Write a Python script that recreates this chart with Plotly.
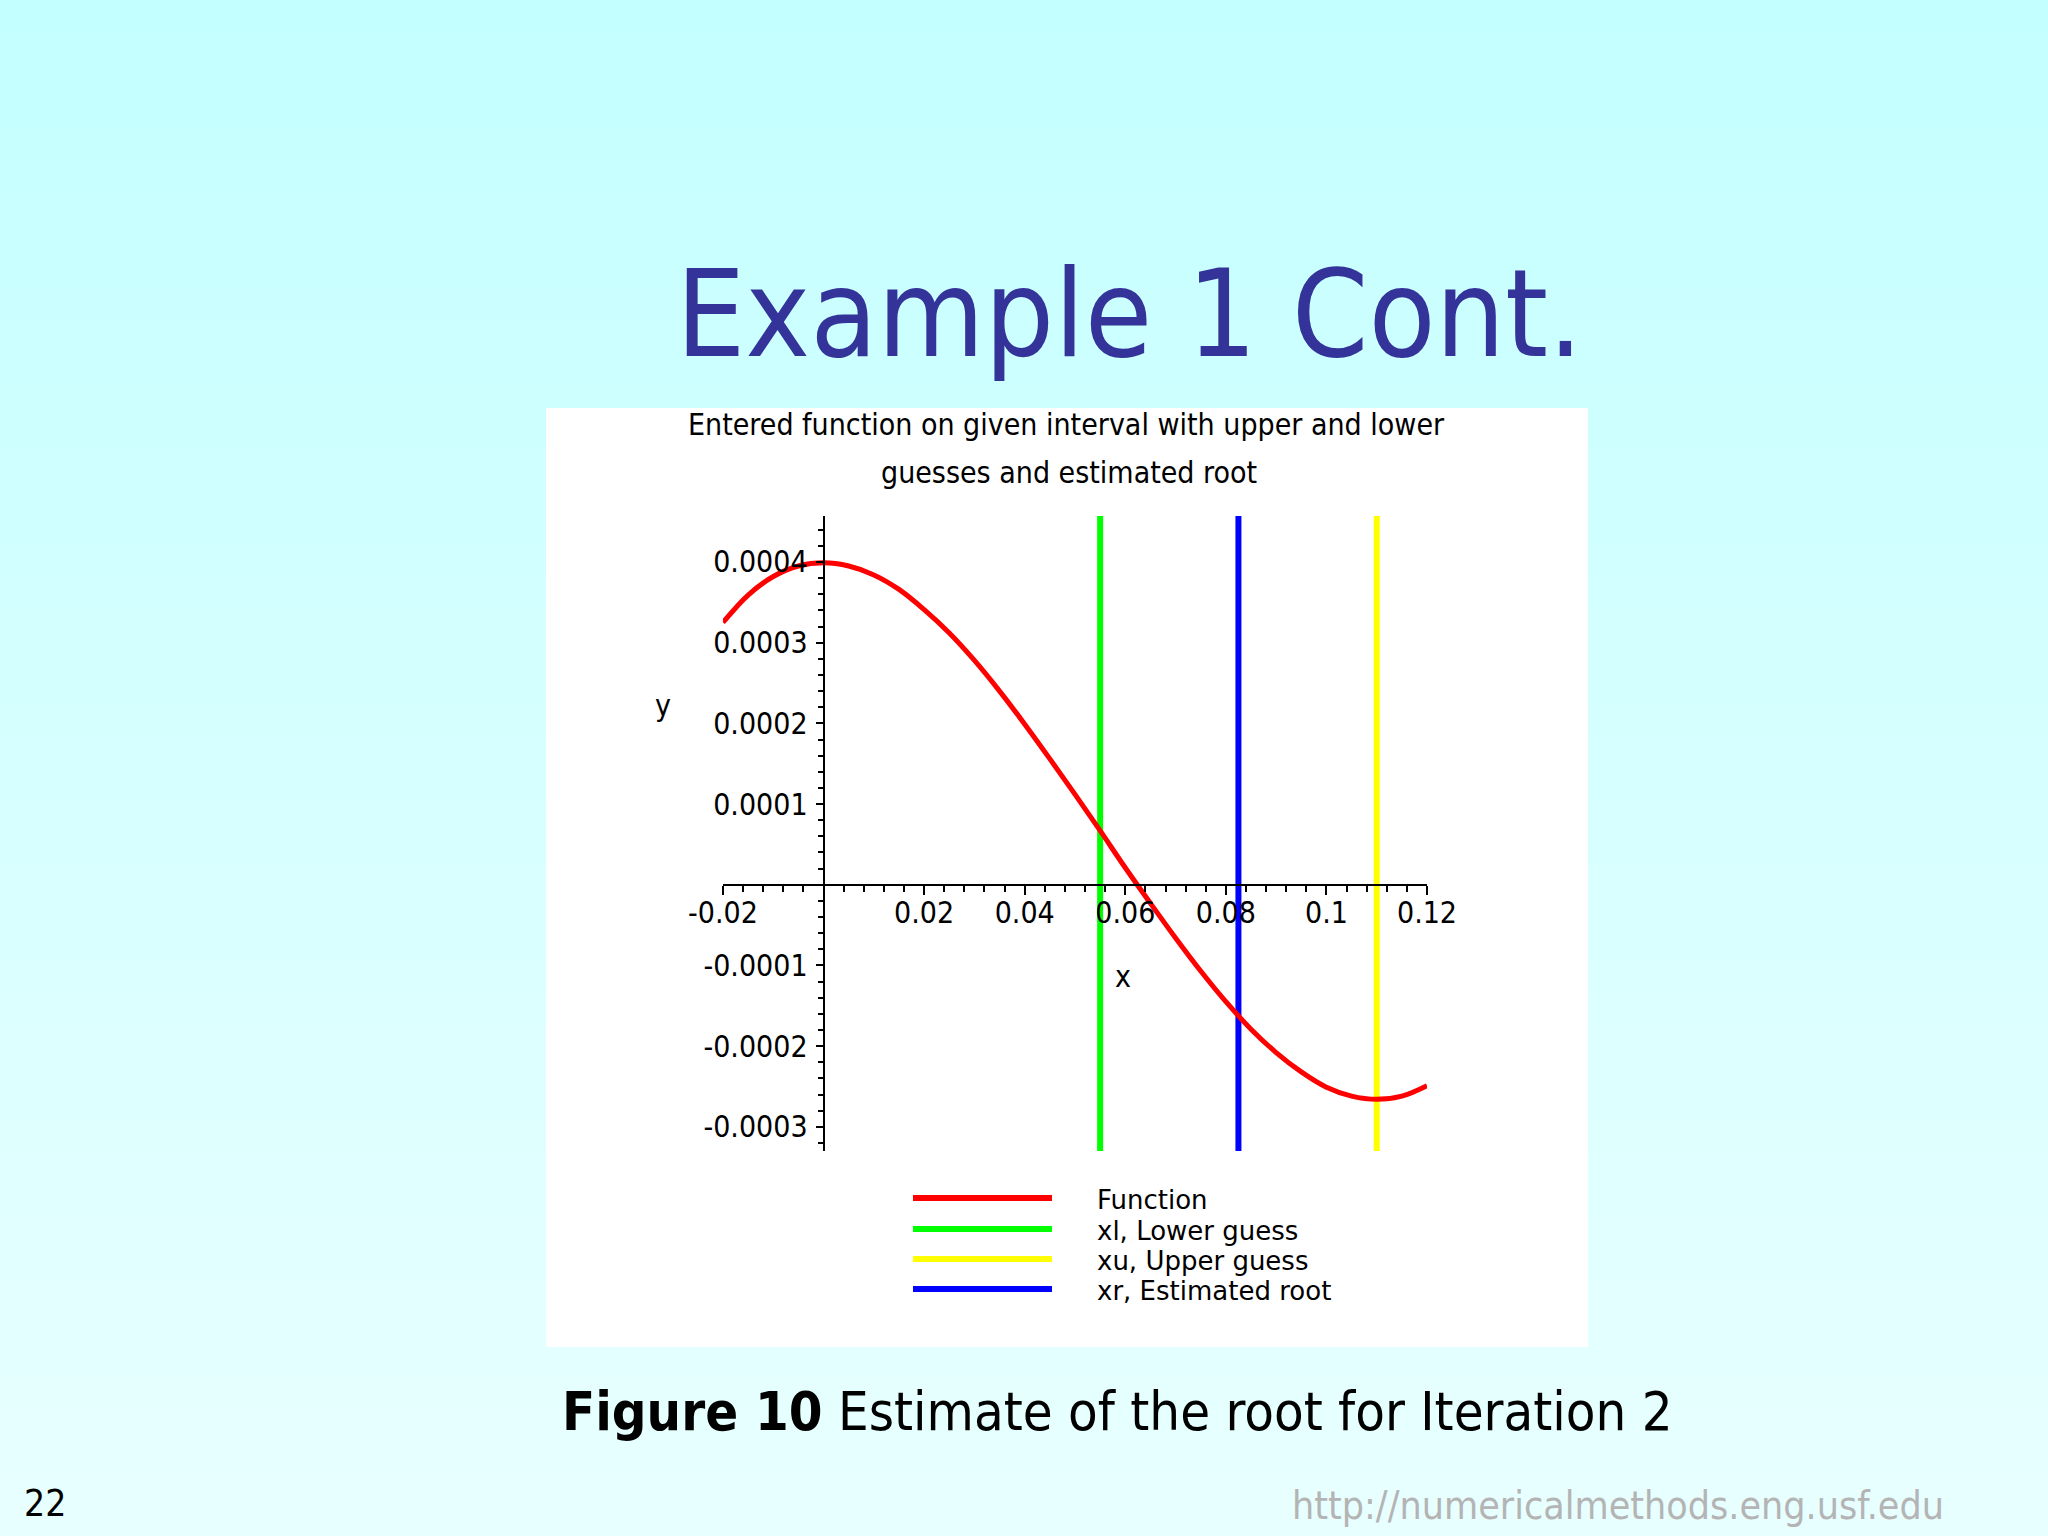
import plotly.graph_objects as go

# ---------------- data ----------------
x_vals = [-0.020, -0.015, -0.010, -0.005, 0.000, 0.005, 0.010, 0.015, 0.020, 0.025,
          0.030, 0.035, 0.040, 0.045, 0.050, 0.055, 0.060, 0.065, 0.070, 0.075,
          0.080, 0.085, 0.090, 0.095, 0.100, 0.105, 0.110, 0.115, 0.120]
y_vals = [0.000325, 0.000359, 0.000382, 0.000395, 0.000399, 0.000395, 0.000384, 0.000366,
          0.000341, 0.000312, 0.000278, 0.000240, 0.000199, 0.000156, 0.000112, 0.000067,
          0.000021, -0.000023, -0.000066, -0.000107, -0.000145, -0.000179, -0.000208,
          -0.000232, -0.000251, -0.000262, -0.000266, -0.000262, -0.000249]

guess_names = ["xl, Lower guess", "xu, Upper guess", "xr, Estimated root"]
guess_x = [0.055, 0.11, 0.0825]
guess_colors = ["#00FF00", "#FFFF00", "#0000FF"]
function_name = "Function"
function_color = "#FF0000"

x_range = [-0.02, 0.12]
y_range = [-0.00033, 0.000457]
x_tickvals = [-0.02, 0.02, 0.04, 0.06, 0.08, 0.1, 0.12]
x_ticktext = ["-0.02", "0.02", "0.04", "0.06", "0.08", "0.1", "0.12"]
y_tickvals = [-0.0003, -0.0002, -0.0001, 0.0001, 0.0002, 0.0003, 0.0004]
y_ticktext = ["-0.0003", "-0.0002", "-0.0001", "0.0001", "0.0002", "0.0003", "0.0004"]

slide_title = "Example 1 Cont."
plot_title_1 = "Entered function on given interval with upper and lower"
plot_title_2 = "guesses and estimated root"
caption_bold = "Figure 10"
caption_rest = " Estimate of the root for Iteration 2"
page_number = "22"
url_text = "http://numericalmethods.eng.usf.edu"

# ---------------- layout geometry (pixels of the 2048x1536 page) ----------------
W, H = 2048, 1536
PX_L, PX_R = 723, 1427      # plot area left/right
PY_T, PY_B = 516, 1151      # plot area top/bottom


def fx(px):
    return px / W


def fy(py):
    return 1 - py / H


x_dom = [fx(PX_L), fx(PX_R)]
y_dom = [fy(PY_B), fy(PY_T)]
# positions where the axes cross (x = 0 and y = 0)
yaxis_pos = x_dom[0] + (0 - x_range[0]) / (x_range[1] - x_range[0]) * (x_dom[1] - x_dom[0])
xaxis_pos = y_dom[0] + (0 - y_range[0]) / (y_range[1] - y_range[0]) * (y_dom[1] - y_dom[0])

NARROW = "DejaVu Sans Condensed, Liberation Sans Narrow, sans-serif"
SLIDE = "DejaVu Sans Condensed, Tahoma, Noto Sans, sans-serif"

fig = go.Figure()

for name, xv, col in zip(guess_names, guess_x, guess_colors):
    fig.add_trace(go.Scatter(x=[xv, xv], y=[y_range[0], y_range[1]], mode="lines",
                             line=dict(color=col, width=6), name=name,
                             showlegend=False, hoverinfo="skip"))

fig.add_trace(go.Scatter(x=x_vals, y=y_vals, mode="lines", name=function_name,
                         line=dict(color=function_color, width=5, shape="spline"),
                         showlegend=False))

# ---------------- background gradient + white panel ----------------
shapes = []
n_bands = 48
top_rgb = (196, 255, 255)
bot_rgb = (232, 255, 255)
for i in range(n_bands):
    t = i / (n_bands - 1)
    c = tuple(round(a + (b - a) * t) for a, b in zip(top_rgb, bot_rgb))
    shapes.append(dict(type="rect", xref="paper", yref="paper", layer="below",
                       x0=0, x1=1, y0=1 - (i + 1) / n_bands - 0.001, y1=1 - i / n_bands,
                       fillcolor=f"rgb{c}", line=dict(width=0)))
shapes.append(dict(type="rect", xref="paper", yref="paper", layer="below",
                   x0=fx(546), x1=fx(1588), y0=fy(1347), y1=fy(408),
                   fillcolor="#FFFFFF", line=dict(width=0)))

# ---------------- hand-made legend ----------------
legend_names = [function_name] + [guess_names[0], guess_names[1], guess_names[2]]
legend_colors = [function_color, guess_colors[0], guess_colors[1], guess_colors[2]]
legend_y = [1198, 1229, 1259, 1289]
annotations = []
for nm, col, ly in zip(legend_names, legend_colors, legend_y):
    shapes.append(dict(type="line", xref="paper", yref="paper",
                       x0=fx(913), x1=fx(1052), y0=fy(ly), y1=fy(ly),
                       line=dict(color=col, width=6)))
    annotations.append(dict(text=nm, xref="paper", yref="paper", x=fx(1095), y=fy(ly + 2),
                            xanchor="left", yanchor="middle", showarrow=False,
                            font=dict(family="DejaVu Sans, sans-serif", size=26, color="black")))

annotations += [
    dict(text=slide_title, xref="paper", yref="paper", x=fx(1129), y=fy(314),
         xanchor="center", yanchor="middle", showarrow=False,
         font=dict(family=SLIDE, size=122, color="#333399")),
    dict(text=plot_title_1, xref="paper", yref="paper", x=fx(1066), y=fy(424),
         xanchor="center", yanchor="middle", showarrow=False,
         font=dict(family=NARROW, size=30, color="black")),
    dict(text=plot_title_2, xref="paper", yref="paper", x=fx(1069), y=fy(473),
         xanchor="center", yanchor="middle", showarrow=False,
         font=dict(family=NARROW, size=30, color="black")),
    dict(text="y", xref="paper", yref="paper", x=fx(663), y=fy(705),
         xanchor="center", yanchor="middle", showarrow=False,
         font=dict(family=NARROW, size=30, color="black")),
    dict(text="x", xref="paper", yref="paper", x=fx(1123), y=fy(976),
         xanchor="center", yanchor="middle", showarrow=False,
         font=dict(family=NARROW, size=30, color="black")),
    dict(text=f"<b>{caption_bold}</b>{caption_rest}", xref="paper", yref="paper",
         x=fx(1117), y=fy(1411), xanchor="center", yanchor="middle", showarrow=False,
         font=dict(family=SLIDE, size=54, color="black")),
    dict(text=page_number, xref="paper", yref="paper", x=fx(22), y=fy(1503),
         xanchor="left", yanchor="middle", showarrow=False,
         font=dict(family=SLIDE, size=37, color="black")),
    dict(text=url_text, xref="paper", yref="paper", x=fx(1946), y=fy(1505),
         xanchor="right", yanchor="middle", showarrow=False,
         font=dict(family=SLIDE, size=39, color="#B4B4B4")),
]

axis_font = dict(family=NARROW, size=30, color="black")
fig.update_layout(
    width=W, height=H,
    margin=dict(l=0, r=0, t=0, b=0, pad=0, autoexpand=False),
    paper_bgcolor="#E0FFFF",
    plot_bgcolor="rgba(0,0,0,0)",
    showlegend=False,
    shapes=shapes,
    annotations=annotations,
    xaxis=dict(domain=x_dom, range=x_range, anchor="free", position=xaxis_pos,
               automargin=False,
               showgrid=False, zeroline=False, showline=True, linecolor="black", linewidth=2,
               tickmode="array", tickvals=x_tickvals, ticktext=x_ticktext,
               ticks="outside", ticklen=9, tickwidth=2, tickcolor="black",
               tickfont=axis_font, ticklabelstandoff=-8,
               minor=dict(tickmode="linear", tick0=0, dtick=0.004, ticks="outside",
                          ticklen=6, tickwidth=2, tickcolor="black", showgrid=False)),
    yaxis=dict(domain=y_dom, range=y_range, anchor="free", position=yaxis_pos,
               automargin=False,
               showgrid=False, zeroline=False, showline=True, linecolor="black", linewidth=2,
               tickmode="array", tickvals=y_tickvals, ticktext=y_ticktext,
               ticks="outside", ticklen=7, tickwidth=2, tickcolor="black",
               tickfont=axis_font, ticklabelstandoff=2,
               minor=dict(tickmode="linear", tick0=0, dtick=0.00002, ticks="outside",
                          ticklen=5, tickwidth=2, tickcolor="black", showgrid=False)),
)

fig.write_html("out.html", config={"displayModeBar": False},
               post_script="document.body.style.margin='0px';document.body.style.overflow='hidden';")
